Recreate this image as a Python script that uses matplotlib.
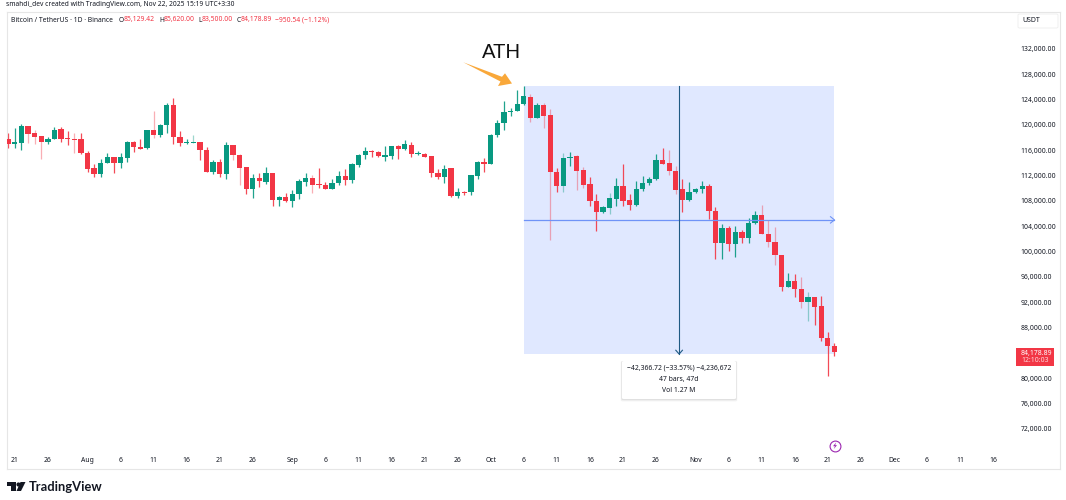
import matplotlib
matplotlib.use("Agg")
import matplotlib.pyplot as plt
import matplotlib.dates as mdates
import pandas as pd
from matplotlib.patches import FancyBboxPatch, Polygon, Rectangle

plt.rcParams["font.family"] = ["Noto Sans", "DejaVu Sans"]

START_DATE = "2025-07-20"

opens = [
    117737, 117000, 117211, 119842, 118684, 118211, 117368, 117737, 119316, 117895,
    117842, 117737, 115632, 113158, 112316, 114000, 114895, 113947, 114842, 117368,
    116526, 116316, 119158, 118474, 120000, 123158, 118158, 117211, 117211, 117263,
    116053, 112579, 114158, 112263, 116790, 115211, 113316, 109895, 111579, 111053,
    112421, 108105, 108632, 108053, 109053, 111053, 111579, 110632, 110474, 109948,
    110895, 111948, 111316, 113737, 115316, 115895, 115790, 115000, 115053, 116632,
    116158, 116895, 115421, 115421, 115053, 112474, 111790, 113158, 108790, 109474,
    109421, 112000, 114158, 113842, 118421, 120368, 122053, 122158, 123263, 124474,
    121158, 123158, 121527, 112632, 110422, 114790, 115053, 112895, 110632, 108001,
    106211, 106948, 108369, 110369, 108106, 107316, 109895, 110790, 111422, 114422,
    113948, 112789, 109842, 108157, 109473, 109842, 110421, 106473, 101315, 103684,
    101158, 103158, 102105, 104473, 105789, 102842, 101473, 99473, 94368, 95421,
    94053, 92000, 92789, 91421, 86421, 85129.42,
]
highs = [
    118790, 119579, 120105, 119895, 119210, 118263, 118158, 119684, 119684, 119105,
    118684, 118737, 115842, 113842, 114579, 115579, 114895, 115526, 117421, 117421,
    117789, 119210, 122210, 120158, 123421, 124316, 119105, 117737, 118421, 117368,
    116474, 114421, 114684, 117263, 116842, 115421, 113316, 112263, 112474, 113316,
    112474, 108737, 109211, 109684, 111527, 112369, 112105, 113211, 111053, 111474,
    112790, 113105, 113947, 115421, 116474, 116105, 115947, 116684, 116684, 116842,
    117684, 117368, 115947, 115632, 115105, 113105, 113737, 113211, 110000, 109527,
    112105, 114263, 114737, 118526, 120789, 123737, 122631, 125526, 126199.63, 124948,
    123527, 123527, 122474, 113158, 115527, 115790, 115264, 113422, 111843, 109053,
    107264, 109264, 111580, 113895, 109053, 111106, 111948, 111738, 115369, 116316,
    116053, 113526, 111421, 111052, 110052, 111105, 110684, 107105, 104315, 104052,
    104052, 103473, 105368, 106473, 107368, 105000, 103842, 99473, 96579, 96421,
    95947, 93684, 92900, 93000, 87263, 85620,
]
lows = [
    116316, 116316, 116000, 117211, 117000, 114632, 117000, 117737, 117316, 116842,
    115632, 115369, 112632, 111842, 111790, 114000, 112474, 113211, 114211, 115737,
    116211, 116263, 117947, 118158, 118790, 117053, 116632, 117000, 117105, 114474,
    112632, 112263, 111842, 111527, 114474, 110527, 109105, 108527, 110263, 110684,
    107263, 107211, 107895, 107105, 108263, 110369, 109211, 110000, 109842, 109948,
    110527, 110579, 110895, 113421, 114684, 115000, 114947, 114263, 114684, 114632,
    116105, 114947, 115263, 114895, 111737, 111421, 110895, 108579, 108527, 108948,
    109000, 111421, 112527, 113790, 118158, 119210, 121474, 122158, 123105, 120527,
    121106, 119474, 101843, 109369, 109369, 113527, 109738, 110001, 107264, 103316,
    106159, 105896, 107211, 107264, 106527, 107264, 109632, 110527, 111264, 113790,
    112106, 109052, 106210, 108052, 109210, 109210, 105158, 98789, 98842, 100158,
    99105, 101315, 101315, 104368, 102789, 100684, 97895, 93842, 94368, 92789,
    91053, 89053, 88421, 85947, 80421, 83500,
]
closes = [
    117000, 117316, 119842, 118579, 118105, 117368, 117789, 119263, 117842, 117737,
    117684, 115526, 113053, 112316, 114053, 114895, 113947, 114895, 117368, 116526,
    116263, 119158, 118474, 120053, 123158, 118158, 117158, 117368, 117316, 116053,
    112632, 114158, 112211, 116790, 115211, 113263, 109895, 111579, 111105, 112369,
    108158, 108632, 108053, 109105, 111105, 111579, 110474, 110474, 109895, 110895,
    111948, 111316, 113790, 115316, 115895, 115737, 115053, 115211, 116632, 116211,
    116947, 115474, 115579, 115000, 112421, 111790, 113105, 108790, 109421, 109316,
    112053, 114158, 113842, 118474, 120368, 122105, 122158, 123316, 124526, 121158,
    123158, 121474, 112527, 110422, 114843, 115001, 112790, 110527, 108001, 106211,
    107001, 108474, 110369, 108001, 107316, 109948, 110843, 111527, 114422, 113895,
    112685, 109736, 108157, 109473, 109947, 110368, 106421, 101315, 103684, 101210,
    103158, 102158, 104473, 105789, 102789, 101473, 99421, 94368, 95421, 94053,
    92000, 92789, 91316, 86421, 85129.42, 84178.89,
]

# Candles whose wicks were drawn faintly
faint_wicks = [3, 4, 5, 10, 22, 28, 34, 35, 46, 79, 81, 82, 84, 86, 87, 91,
               100, 101, 114, 115, 116, 120, 121]

price_ticks = list(range(72000, 132001, 4000))
date_ticks = [
    ("2025-07-21", "21"), ("2025-07-26", "26"), ("2025-08-01", "Aug"), ("2025-08-06", "6"),
    ("2025-08-11", "11"), ("2025-08-16", "16"), ("2025-08-21", "21"), ("2025-08-26", "26"),
    ("2025-09-01", "Sep"), ("2025-09-06", "6"), ("2025-09-11", "11"), ("2025-09-16", "16"),
    ("2025-09-21", "21"), ("2025-09-26", "26"), ("2025-10-01", "Oct"), ("2025-10-06", "6"),
    ("2025-10-11", "11"), ("2025-10-16", "16"), ("2025-10-21", "21"), ("2025-10-26", "26"),
    ("2025-11-01", "Nov"), ("2025-11-06", "6"), ("2025-11-11", "11"), ("2025-11-16", "16"),
    ("2025-11-21", "21"), ("2025-11-26", "26"), ("2025-12-01", "Dec"), ("2025-12-06", "6"),
    ("2025-12-11", "11"), ("2025-12-16", "16"),
]
range_high = 126199.63
range_change = 42366.72
range_start = "2025-10-06"
range_end = "2025-11-22"

UP = "#089981"
DOWN = "#F23645"
TEXT = "#131722"
GRID = "#E6E6E6"
BLUE = "#2962FF"
W, H = 1066, 500


def fx(x):
    return x / W


def fy(y):
    return 1 - y / H


fig = plt.figure(figsize=(W / 100, H / 100), dpi=100, facecolor="white")
ax = fig.add_axes([fx(6.5), fy(469), fx(1060 - 6.5), fy(12) - fy(469)])

dates = mdates.date2num(pd.date_range(START_DATE, periods=len(opens)))
tick_x = mdates.date2num(pd.to_datetime([d for d, _ in date_ticks]))

# Price range study behind the candles
x0, x1 = mdates.date2num(pd.to_datetime([range_start, range_end]))
range_low = range_high - range_change
ax.add_patch(Rectangle((x0, range_low), x1 - x0, range_change,
                       facecolor=BLUE, alpha=0.14, edgecolor="none", zorder=1))

for i, (d, o, h, l, c) in enumerate(zip(dates, opens, highs, lows, closes)):
    color = UP if c >= o else DOWN
    ax.vlines(d, l, h, color=color, lw=0.9, alpha=0.4 if i in faint_wicks else 0.9, zorder=2)
    ax.bar(d, abs(c - o), bottom=min(o, c), width=0.8, color=color, zorder=3)

# Crosshair arrows of the range study
xm = (x0 + x1) / 2
ym = (range_high + range_low) / 2
ax.plot([x0, x1], [ym, ym], color="#6F93F7", lw=0.9, zorder=4)
ax.plot([xm, xm], [range_low, range_high], color="#1F5A84", lw=0.8, zorder=4)
ax.plot([x1 - 0.6, x1, x1 - 0.6], [ym + 500, ym, ym - 500], color="#6F93F7", lw=0.8, zorder=4)
ax.plot([xm - 0.5, xm, xm + 0.5], [range_low + 600, range_low, range_low + 600],
        color="#1F5A84", lw=0.8, zorder=4)

ax.set_xlim(dates[0] - 0.257, dates[0] + 159.12)
ax.set_ylim(65682, 137842)
ax.yaxis.tick_right()
ax.set_yticks(price_ticks, [f"{p:,.2f}" for p in price_ticks])
ax.set_xticks(tick_x, [t for _, t in date_ticks])
ax.tick_params(axis="y", length=0, pad=-28.5, labelsize=4.9, labelcolor=TEXT)
ax.tick_params(axis="x", length=0, pad=-8.6, labelsize=4.9, labelcolor=TEXT)
for spine in ax.spines.values():
    spine.set_color(GRID)
    spine.set_linewidth(0.8)

# Header lines
fig.text(fx(6), fy(4.5), "smahdi_dev created with TradingView.com, Nov 22, 2025 15:19 UTC+3:30",
         fontsize=4.8, color=TEXT, va="center")
fig.text(fx(11), fy(20), "Bitcoin / TetherUS · 1D · Binance", fontsize=4.85, color=TEXT, va="center")
for lx, letter, vx, value in [(119, "O", 124, "85,129.42"), (159, "H", 163.5, "85,620.00"),
                              (198, "L", 201.5, "83,500.00"), (237, "C", 241, "84,178.89")]:
    fig.text(fx(lx), fy(20), letter, fontsize=4.85, color=TEXT, va="center")
    fig.text(fx(vx), fy(20), value, fontsize=4.85, color=DOWN, va="center")
fig.text(fx(275), fy(20), "−950.54 (−1.12%)", fontsize=4.85, color=DOWN, va="center")

# Currency badge on the price scale
fig.add_artist(FancyBboxPatch((fx(1018), fy(28)), fx(40), fy(14) - fy(28),
                              boxstyle="round,pad=0,rounding_size=0.002",
                              facecolor="white", edgecolor="#EFEFEF", lw=0.7,
                              transform=fig.transFigure))
fig.text(fx(1022), fy(21), "USDT", fontsize=5.0, color=TEXT, va="center")

# ATH note and its arrow
fig.text(fx(501.5), fy(58.3), "ATH", fontsize=14.6, color="#111111", ha="center", va="baseline",
         family="Liberation Sans")
arrow_px = [(463.3, 62.3), (502, 76.8), (505, 73.3), (512, 83.5), (498, 86), (500.5, 81.5)]
fig.add_artist(Polygon([(fx(x), fy(y)) for x, y in arrow_px], closed=True, facecolor="#F9A83A",
                       edgecolor="none", transform=fig.transFigure))

# Range study readout with a soft shadow
for offset, grow, shade in [(1.2, 1.2, 0.05), (0.6, 0.6, 0.07)]:
    fig.add_artist(FancyBboxPatch((fx(622 - grow), fy(399 + offset + grow)), fx(114 + 2 * grow),
                                  fy(361 + offset - grow) - fy(399 + offset + grow),
                                  boxstyle="round,pad=0,rounding_size=0.002", facecolor="black",
                                  alpha=shade, edgecolor="none", transform=fig.transFigure, zorder=5))
fig.add_artist(FancyBboxPatch((fx(622), fy(399)), fx(114), fy(361) - fy(399),
                              boxstyle="round,pad=0,rounding_size=0.002", facecolor="white",
                              edgecolor="none", transform=fig.transFigure, zorder=5))
for y, line in [(368, "−42,366.72 (−33.57%) −4,236,672"), (380, "47 bars, 47d"), (391, "Vol 1.27 M")]:
    fig.text(fx(679), fy(y), line, fontsize=4.9, color=TEXT, ha="center", va="center", zorder=6)

# Last price tag
fig.add_artist(Rectangle((fx(1016), fy(366)), fx(38), fy(348) - fy(366), facecolor=DOWN,
                         edgecolor="none", transform=fig.transFigure))
fig.text(fx(1021), fy(353), "84,178.89", fontsize=4.9, color="white", va="center",
         fontweight="bold")
fig.text(fx(1021), fy(361), "12:10:03", fontsize=4.9, color="#FFD9DC", va="center")

# Event marker on the time scale
PURPLE = "#9C27B0"
fig.add_artist(plt.Line2D([fx(835)], [fy(445.7)], marker="o", ms=7.8, mfc="white", mec=PURPLE,
                          mew=0.8, ls="none", transform=fig.transFigure, zorder=3))
bolt_px = [(836.2, 442.4), (833, 446.2), (834.9, 446.2), (833.8, 449), (837, 445.2), (835.1, 445.2)]
fig.add_artist(Polygon([(fx(x), fy(y)) for x, y in bolt_px], closed=True, facecolor=PURPLE,
                       edgecolor="none", transform=fig.transFigure, zorder=4))

# Vendor logo
logo_parts = [
    [(7, 482), (15.5, 482), (15.5, 491), (11, 491), (11, 486), (7, 486)],
    [(20.5, 482), (25.5, 482), (21, 491), (16.5, 491)],
]
for part in logo_parts:
    fig.add_artist(Polygon([(fx(x), fy(y)) for x, y in part], closed=True, facecolor="#131722",
                           edgecolor="none", transform=fig.transFigure))
fig.add_artist(plt.Line2D([fx(18.3)], [fy(484.2)], marker="o", ms=3.0, mfc="#131722", mec="none",
                          ls="none", transform=fig.transFigure))
fig.text(fx(29), fy(487), "TradingView", fontsize=9.3, color="#131722", va="center",
         family="Lato", fontweight="bold")

fig.savefig("out.png", dpi=100)
